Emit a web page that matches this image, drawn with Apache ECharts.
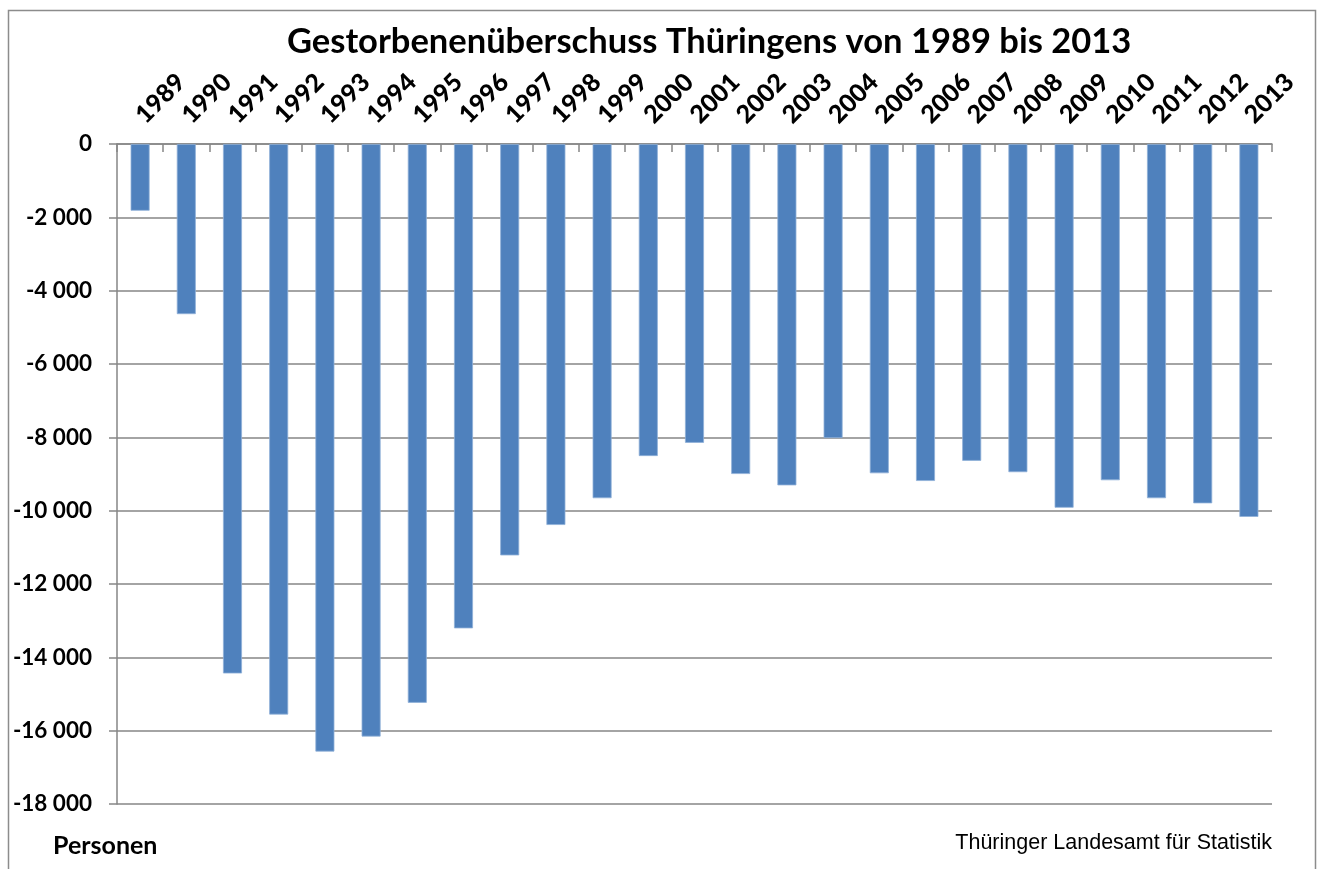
<!DOCTYPE html>
<html>
<head>
<meta charset="utf-8">
<script src="https://cdn.jsdelivr.net/npm/echarts@6/dist/echarts.min.js"></script>
<style>
html,body{margin:0;padding:0;background:#fff;}
#chart{width:1319px;height:869px;}
</style>
</head>
<body>
<div id="chart"></div>
<script>
const titleText = 'Gestorbenenüberschuss Thüringens von 1989 bis 2013';
const years = ['1989','1990','1991','1992','1993','1994','1995','1996','1997','1998','1999','2000','2001','2002','2003','2004','2005','2006','2007','2008','2009','2010','2011','2012','2013'];
const values = [-1820, -4640, -14440, -15560, -16570, -16160, -15240, -13210, -11220, -10390, -9660, -8510, -8150, -9000, -9310, -8020, -8980, -9190, -8640, -8950, -9920, -9170, -9660, -9800, -10170];
const yMin = -18000;
const yMax = 0;
const yStep = 2000;
const unitLabel = 'Personen';
const sourceLabel = 'Thüringer Landesamt für Statistik';

function fmt(v) {
  const s = Math.abs(v).toString().replace(/\B(?=(\d{3})+(?!\d))/g, ' ');
  return (v < 0 ? '-' : '') + s;
}

const chart = echarts.init(document.getElementById('chart'), null, {renderer: 'canvas'});
chart.setOption({
  animation: false,
  backgroundColor: '#ffffff',
  title: {
    text: titleText,
    left: 282,
    top: 19,
    textStyle: {fontFamily: 'Lato', fontWeight: 'bold', fontSize: 34.5, color: '#000'}
  },
  grid: {left: 117, right: 47, top: 144, bottom: 65, containLabel: false},
  xAxis: {
    type: 'category',
    position: 'top',
    data: years,
    boundaryGap: true,
    axisLine: {show: true, onZero: false, lineStyle: {color: '#868686', width: 1.5}},
    axisTick: {show: true, inside: true, length: 8, alignWithLabel: false, lineStyle: {color: '#868686', width: 1.5}},
    axisLabel: {
      interval: 0, rotate: -45, margin: 25,
      fontFamily: 'Lato', fontWeight: 900, fontSize: 25, color: '#000'
    },
    splitLine: {show: false}
  },
  yAxis: {
    type: 'value',
    min: yMin, max: yMax, interval: yStep,
    axisLine: {show: true, lineStyle: {color: '#868686', width: 1.5}},
    axisTick: {show: true, inside: false, length: 8, lineStyle: {color: '#868686', width: 1.5}},
    axisLabel: {
      margin: 25, formatter: fmt,
      fontFamily: 'Lato', fontWeight: 'bold', fontSize: 22.5, color: '#000'
    },
    splitLine: {show: true, lineStyle: {color: '#868686', width: 1.5}}
  },
  series: [{
    type: 'bar',
    data: values,
    barWidth: 19,
    itemStyle: {color: '#4F81BD', borderColor: '#8fb0d8', borderWidth: 0.8}
  }],
  graphic: [
    {type: 'rect', left: 6, top: 8, shape: {width: 1307, height: 870}, style: {fill: 'none', stroke: '#8c8c8c', lineWidth: 1.5}, silent: true, z: -1},
    {type: 'text', left: 53, top: 833, style: {text: unitLabel, font: 'bold 25px Lato', fill: '#000'}},
    {type: 'text', right: 47, top: 832, style: {text: sourceLabel, font: '21.5px "Liberation Sans"', fill: '#000'}}
  ]
});
</script>
</body>
</html>
